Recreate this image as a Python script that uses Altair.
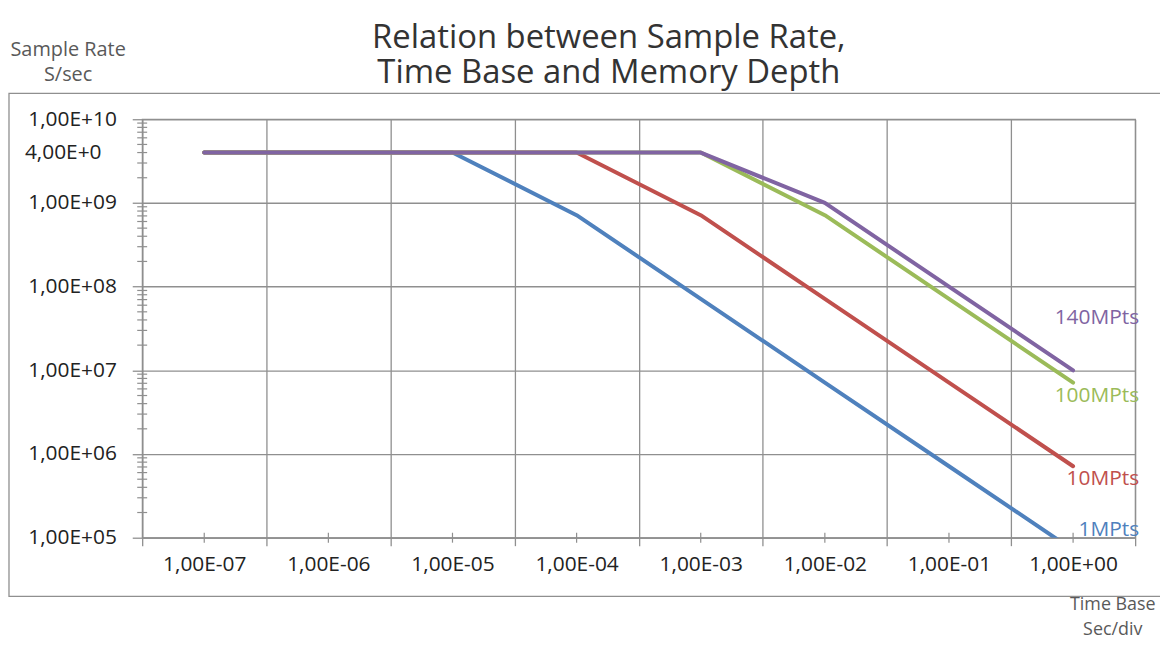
import altair as alt
import pandas as pd

# ---- data ----
timebase = ["1,00E-07", "1,00E-06", "1,00E-05", "1,00E-04",
            "1,00E-03", "1,00E-02", "1,00E-01", "1,00E+00"]
series_names = ["1MPts", "10MPts", "100MPts", "140MPts"]
rate_1m = [4.0e9, 4.0e9, 4.0e9, 7.14e8, 7.14e7, 7.14e6, 7.14e5, 7.14e4]
rate_10m = [4.0e9, 4.0e9, 4.0e9, 4.0e9, 7.14e8, 7.14e7, 7.14e6, 7.14e5]
rate_100m = [4.0e9, 4.0e9, 4.0e9, 4.0e9, 4.0e9, 7.14e8, 7.14e7, 7.14e6]
rate_140m = [4.0e9, 4.0e9, 4.0e9, 4.0e9, 4.0e9, 1.0e9, 1.0e8, 1.0e7]
colors = ["#4F81BD", "#C0504D", "#9BBB59", "#8064A2"]
y_major = [1e5, 1e6, 1e7, 1e8, 1e9, 1e10]
y_minor = [m * 10 ** k for k in range(5, 10) for m in range(2, 10)]
extra_label_value = [4.0e9]
extra_label_text = ["4,00E+0"]

all_rates = [rate_1m, rate_10m, rate_100m, rate_140m]
df = pd.DataFrame({
    "timebase": timebase * 4,
    "rate": rate_1m + rate_10m + rate_100m + rate_140m,
    "series": [s for s in series_names for _ in timebase],
})
ends = pd.DataFrame({"series": series_names, "rate": [r[-1] for r in all_rates]})

W, H = 999, 421
GRID = "#8f8f8f"
FONT = "Open Sans"
LABEL = 21

xscale = alt.Scale(type="band", domain=timebase, paddingInner=0, paddingOuter=0)
yscale = alt.Scale(type="log", domain=[1e5, 1e10], nice=False)
cscale = alt.Scale(domain=series_names, range=colors)

x_axis = alt.Axis(
    title=["Time Base", "Sec/div"], tickBand="extent", grid=True,
    gridColor=GRID, gridWidth=1.3, domainColor=GRID, domainWidth=1.3,
    tickColor=GRID, tickSize=8, tickWidth=1.3,
    labelFont=FONT, labelFontSize=LABEL, labelColor="#222222", labelPadding=8, labelAngle=0,
    titleFont=FONT, titleFontSize=18, titleColor="#595959", titleFontWeight="normal",
    titleAngle=0, titleX=976, titleY=67, titleAlign="center", titleBaseline="middle",
    titleLineHeight=25,
)
y_axis = alt.Axis(
    values=y_major, title=["Sample Rate", "S/sec"], grid=True,
    gridColor=GRID, gridWidth=1.3, domainColor=GRID, domainWidth=1.3,
    tickColor=GRID, tickSize=10, tickWidth=1.3,
    labelFont=FONT, labelFontSize=LABEL, labelColor="#222222", labelPadding=16,
    labelExpr="'1,00E+' + (round(log(datum.value)/LN10) < 10 ? '0' : '') + round(log(datum.value)/LN10)",
    titleFont=FONT, titleFontSize=20, titleColor="#595959", titleFontWeight="normal",
    titleAngle=0, titleX=-75, titleY=-70, titleAlign="center", titleBaseline="middle",
    titleLineHeight=25,
)

frame = alt.Chart(pd.DataFrame({"a": [0]})).mark_rect(
    fill=None, stroke=GRID, strokeWidth=1.3
).encode(x=alt.value(-134), x2=alt.value(1060), y=alt.value(-26), y2=alt.value(480))

layers = [frame]
for i, s in enumerate(series_names):
    enc = dict(
        x=alt.X("timebase:N", scale=xscale, bandPosition=0.5, axis=x_axis if i == 0 else alt.Undefined),
        y=alt.Y("rate:Q", scale=yscale, axis=y_axis if i == 0 else alt.Undefined),
        color=alt.Color("series:N", scale=cscale, legend=None),
    )
    layers.append(
        alt.Chart(df).transform_filter(alt.datum.series == s)
        .mark_line(strokeWidth=4, clip=True, strokeCap="round", strokeJoin="round")
        .encode(**enc)
    )

# minor ticks on the y axis
layers.append(
    alt.Chart(pd.DataFrame({"rate": y_minor})).mark_rule(color=GRID, strokeWidth=1.2)
    .encode(y=alt.Y("rate:Q", scale=yscale), x=alt.value(-5), x2=alt.value(5))
)
# minor ticks on the x axis (category centres)
layers.append(
    alt.Chart(pd.DataFrame({"timebase": timebase})).mark_rule(color=GRID, strokeWidth=1.2)
    .encode(x=alt.X("timebase:N", scale=xscale, bandPosition=0.5), y=alt.value(H - 5), y2=alt.value(H + 5))
)
# the extra axis label
layers.append(
    alt.Chart(pd.DataFrame({"rate": extra_label_value, "txt": extra_label_text}))
    .mark_text(align="left", baseline="middle", font=FONT, fontSize=LABEL, color="#222222")
    .encode(y=alt.Y("rate:Q", scale=yscale), x=alt.value(-118), text="txt:N")
)
# series labels
label_dy = {"1MPts": -20, "10MPts": 13, "100MPts": 14, "140MPts": -53}
for s in series_names:
    layers.append(
        alt.Chart(ends).transform_filter(alt.datum.series == s)
        .mark_text(align="right", baseline="middle", font=FONT, fontSize=21, dy=label_dy[s])
        .encode(y=alt.Y("rate:Q", scale=yscale), x=alt.value(W + 4), text="series:N",
                color=alt.Color("series:N", scale=cscale, legend=None))
    )

chart = alt.layer(*layers).properties(
    width=W, height=H,
    title=alt.Title(["Relation between Sample Rate,", "Time Base and Memory Depth"],
                    font=FONT, fontSize=33, fontWeight="normal", color="#333333",
                    anchor="middle", frame="group", dx=-30, dy=61, offset=10, lineHeight=36),
    padding={"left": 135, "top": 110, "right": 25, "bottom": 103},
    autosize="none",
).configure_view(stroke=GRID, strokeWidth=1.3)

chart.save("out.html", embed_options={"renderer": "svg", "actions": False})
